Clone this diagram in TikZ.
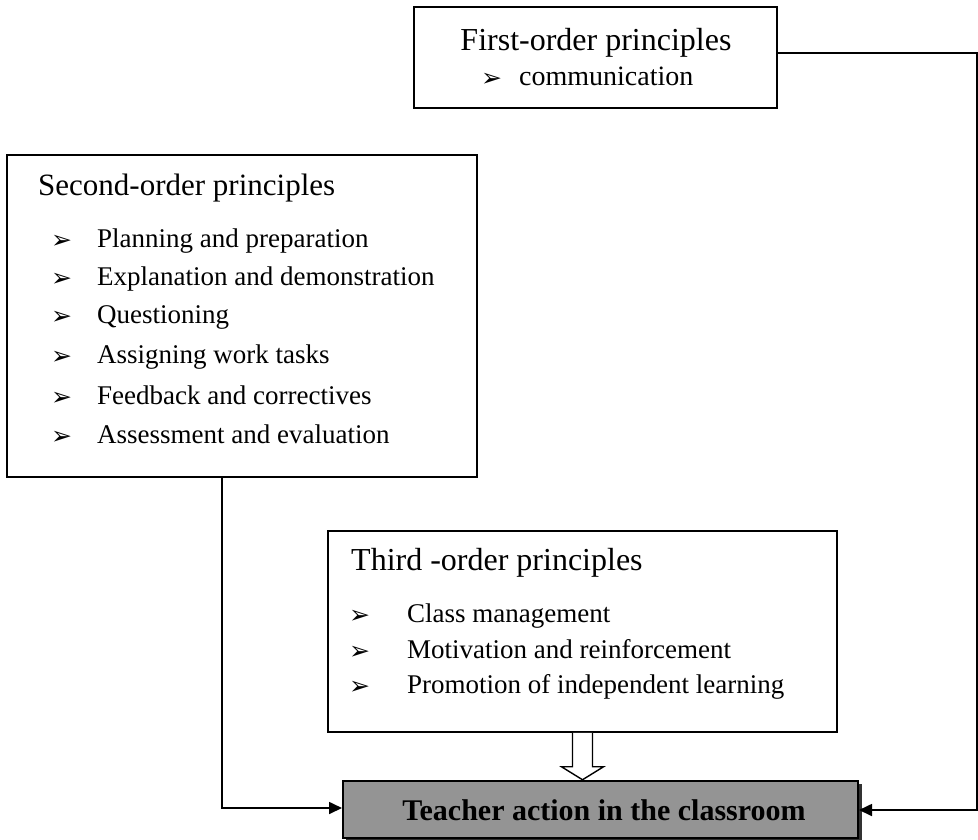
\documentclass[tikz,border=0pt]{standalone}
\usepackage{fontspec}
\setmainfont{Liberation Serif}
\newfontfamily\dingfont{DejaVu Sans}
\usetikzlibrary{arrows.meta}
\begin{document}
\begin{tikzpicture}[x=1pt,y=-1pt,
  box/.style={draw, line width=1.5pt, inner sep=0pt},
  conn/.style={line width=1.7pt},
  tipend/.style={-{Triangle[length=13pt,width=12pt]}},
  ttl/.style={anchor=base west, inner sep=0pt, font=\fontsize{31}{36}\selectfont},
  itm/.style={anchor=base west, inner sep=0pt, font=\fontsize{27}{30}\selectfont},
  bul/.style={anchor=base west, inner sep=0pt, font=\dingfont\fontsize{25}{28}\selectfont},
  hollow/.style={line width=1.4pt, fill=white, line join=miter},
]
\useasboundingbox (0,0) rectangle (978,839);

% First-order box
\node[box, minimum width=363pt, minimum height=101pt] (first) at (595.5,57.5) {};
\node[ttl, anchor=base, font=\fontsize{32}{36}\selectfont] (t1) at (596,50) {First-order principles};
\node[bul] (b1) at (481,86) {➢};
\node[itm, font=\fontsize{28}{30}\selectfont] (i1) at (519,85) {communication};

% Second-order box
\node[box, minimum width=470pt, minimum height=322pt] (second) at (242,316) {};
\node[ttl] (t2) at (38,195) {Second-order principles};
\foreach \y/\txt [count=\k] in {247/Planning and preparation,
    285/Explanation and demonstration,
    323/Questioning,
    363/Assigning work tasks,
    404/Feedback and correctives,
    443/Assessment and evaluation}{
  \node[bul] (sb\k) at (51,\y+1) {➢};
  \node[itm] (si\k) at (97,\y) {\txt};
}

% Third-order box
\node[box, minimum width=509pt, minimum height=201pt] (third) at (582.5,631.5) {};
\node[ttl, font=\fontsize{32}{36}\selectfont] (t3) at (351,570) {Third -order principles};
\foreach \y/\txt [count=\k] in {622/Class management,
    658/Motivation and reinforcement,
    693/Promotion of independent learning}{
  \node[bul] (tb\k) at (349,\y+1) {➢};
  \node[itm] (ti\k) at (407,\y) {\txt};
}

% Teacher action box
\fill[black!80] (346,784) rectangle (862,840);
\node[draw, line width=2pt, fill=black!42, minimum width=515pt, minimum height=57pt, inner sep=0pt] (teacher) at (600.5,809.5) {};
\node[anchor=base, inner sep=0pt, font=\bfseries\fontsize{30}{32}\selectfont, text=black] (tt) at (604,820) {Teacher action in the classroom};

% connectors
\coordinate (rc) at (977,810);
\coordinate (lc) at (222,808);
\draw[conn, tipend] ([yshift=4.5pt]first.east) -| (rc) -- (teacher.east |- rc);
\draw[conn, tipend] (second.south -| lc) -- (lc) -- (teacher.west |- lc);

% hollow arrow
\draw[hollow] (third.south) ++(-10,0) -- ++(0,34) -- ++(-11,0) -- ++(21,13) -- ++(21,-13) -- ++(-11,0) -- ++(0,-34);
\end{tikzpicture}
\end{document}
